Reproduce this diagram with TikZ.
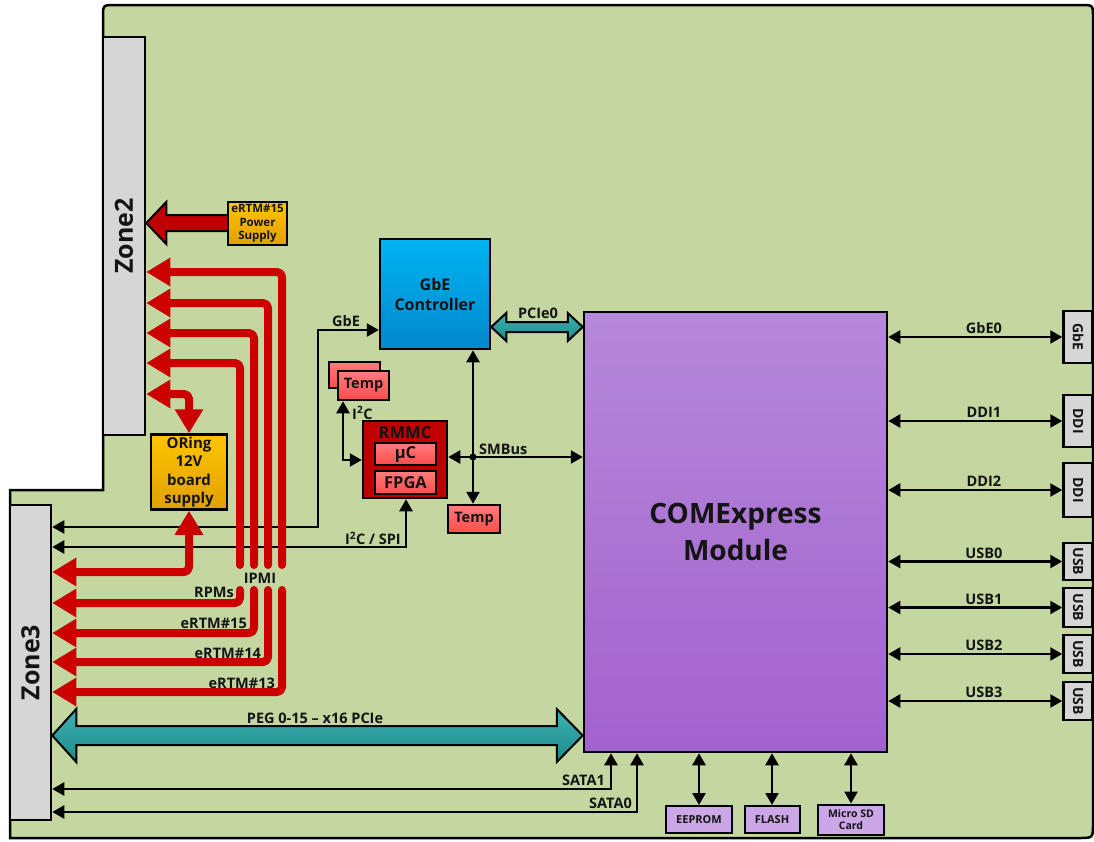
\documentclass[tikz,border=0pt]{standalone}
\usepackage{fontspec}
\setmainfont{Open Sans}
\usetikzlibrary{arrows.meta,calc}
\definecolor{boardgreen}{HTML}{C4D7A0}
\definecolor{zonegray}{HTML}{D6D6D6}
\definecolor{ipmired}{HTML}{CC0000}
\definecolor{darkred}{HTML}{C00000}
\definecolor{gbeTop}{HTML}{00B4F2}
\definecolor{gbeBot}{HTML}{0088CC}
\definecolor{tealTop}{HTML}{3DB2B2}
\definecolor{tealBot}{HTML}{1D8A8A}
\definecolor{orTop}{HTML}{FFC400}
\definecolor{orBot}{HTML}{E0A000}
\definecolor{tempTop}{HTML}{FF7C7C}
\definecolor{tempBot}{HTML}{FF4C4C}
\definecolor{comTop}{HTML}{B688DA}
\definecolor{comBot}{HTML}{A262CE}
\definecolor{lightpurple}{HTML}{CBA7E7}
\definecolor{txt}{HTML}{141414}
\begin{document}
\begin{tikzpicture}[x=1pt,y=-1pt,
  lbl/.style={font=\bfseries\fontsize{14.5}{16}\selectfont, inner sep=1pt, text=txt},
  box/.style={draw=black, line width=2.5pt, inner sep=0pt, align=center, text=txt},
  zone/.style={box, fill=zonegray, font=\bfseries\fontsize{25}{28}\selectfont},
  conn/.style={box, fill=zonegray, minimum width=29pt, font=\bfseries\fontsize{14}{15}\selectfont},
  orangebox/.style={box, top color=orTop, bottom color=orBot},
  tempbox/.style={box, top color=tempTop, bottom color=tempBot},
  membox/.style={box, fill=lightpurple, line width=2pt, font=\bfseries\fontsize{11}{12}\selectfont},
  blk/.style={draw=black, line width=2.5pt, >={Triangle[length=12pt,width=13pt]}},
  redarr/.style={draw=ipmired, line width=8pt, line cap=round, line join=round, rounded corners=5pt, >={Triangle[length=24pt,width=27pt]}},
  fatarrow/.style={draw=black, line width=2pt, line join=miter, top color=tealTop, bottom color=tealBot},
]
\useasboundingbox (0,0) rectangle (1094,841);
% board outline
\draw[line width=2.5pt, fill=boardgreen] (103,17) .. controls (103,5) .. (115,5) -- (1081,5) .. controls (1093,5) .. (1093,17) -- (1093,824) .. controls (1093,838) .. (1079,838) -- (10,838) -- (10,490) -- (103,490) -- cycle;

% zones
\node[zone, minimum width=42pt, minimum height=398pt] (z2) at (124,236) {\rotatebox{90}{Zone2}};
\node[zone, minimum width=41pt, minimum height=315pt] (z3) at (30.5,662.5) {\rotatebox{90}{Zone3}};

% boxes
\node[orangebox, minimum width=59pt, minimum height=43pt, font=\bfseries\fontsize{11.5}{13.5}\selectfont] (ps) at (257.5,223.5) {eRTM\#15\\Power\\Supply};
\node[orangebox, minimum width=76pt, minimum height=75pt, font=\bfseries\fontsize{15}{18.5}\selectfont] (oring) at (189,472) {ORing\\12V\\board\\supply};
\node[box, top color=gbeTop, bottom color=gbeBot, minimum width=110pt, minimum height=110pt, font=\bfseries\fontsize{16}{20}\selectfont] (gbe) at (435,294) {GbE\\Controller};
\node[tempbox, minimum width=51pt, minimum height=26pt] (tempb) at (354.5,375) {};
\node[tempbox, minimum width=51pt, minimum height=29pt, font=\bfseries\fontsize{14.5}{16}\selectfont] (temp1) at (363.5,385.5) {Temp};
\node[box, fill=darkred, minimum width=84pt, minimum height=77pt] (rmmc) at (405,459.5) {};
\node[font=\bfseries\fontsize{16.5}{18}\selectfont, text=txt, inner sep=0pt] (rmmct) at (405,433) {RMMC};
\node[tempbox, line width=2pt, minimum width=61pt, minimum height=22pt, font=\bfseries\fontsize{16.5}{18}\selectfont] (uc) at (405.5,454) {µC};
\node[tempbox, line width=2pt, minimum width=61pt, minimum height=23pt, font=\bfseries\fontsize{16.5}{18}\selectfont] (fpga) at (405.5,482.5) {FPGA};
\node[tempbox, minimum width=52pt, minimum height=28pt, font=\bfseries\fontsize{14.5}{16}\selectfont] (temp2) at (474,519) {Temp};
\node[box, top color=comTop, bottom color=comBot, minimum width=303pt, minimum height=440pt, font=\bfseries\fontsize{28}{37}\selectfont] (com) at (735.5,532) {COMExpress\\Module};

% right connectors
\node[conn, minimum height=52pt] (cgbe) at (1078,337) {\rotatebox{-90}{GbE}};
\node[conn, minimum height=52pt] (cddi1) at (1078,421) {\rotatebox{-90}{DDI}};
\node[conn, minimum height=54pt] (cddi2) at (1078,490) {\rotatebox{-90}{DDI}};
\node[conn, minimum height=37pt] (cusb0) at (1078,561.5) {\rotatebox{-90}{USB}};
\node[conn, minimum height=39pt] (cusb1) at (1078,607.5) {\rotatebox{-90}{USB}};
\node[conn, minimum height=38pt] (cusb2) at (1078,654) {\rotatebox{-90}{USB}};
\node[conn, minimum height=38pt] (cusb3) at (1078,701) {\rotatebox{-90}{USB}};

% bottom memory boxes
\node[membox, minimum width=66pt, minimum height=27pt] (eeprom) at (699,819.5) {EEPROM};
\node[membox, minimum width=55pt, minimum height=27pt] (flash) at (772,819.5) {FLASH};
\node[membox, minimum width=66pt, minimum height=30pt, font=\bfseries\fontsize{10.5}{12}\selectfont] (msd) at (851,819.5) {Micro SD\\Card};

% right side arrows
\foreach \c/\t in {cgbe/GbE0, cddi1/DDI1, cddi2/DDI2, cusb0/USB0, cusb1/USB1, cusb2/USB2, cusb3/USB3}{
  \draw[blk,<->] (com.east |- \c) -- (\c.west) node[lbl, pos=0.55, anchor=south, yshift=1pt] {\t};
}

% bottom arrows
\foreach \m in {eeprom, flash, msd}{
  \draw[blk,<->] (com.south -| \m) -- (\m.north);
}
\draw[blk,<->] (z3.east |- 0,789) -- (611,789) -- (com.south -| 611,0);
\node[lbl, anchor=south east] (lsata1) at (606,787) {SATA1};
\draw[blk,<->] (z3.east |- 0,812) -- (637,812) -- (com.south -| 637,0);
\node[lbl, anchor=south east] (lsata0) at (633,810) {SATA0};

% GbE and I2C/SPI lines
\draw[blk,<->] (z3.east |- 0,527) -- (318,527) -- (318,330) -- (gbe.west |- 0,330);
\node[lbl, anchor=south] (lgbe) at (346,328) {GbE};
\draw[blk,<->] (z3.east |- 0,547) -- (406,547) -- (rmmc.south -| 406,0);
\node[lbl, anchor=south east] (li2cspi) at (402,546) {I\textsuperscript{2}C / SPI};

% SMBus
\draw[blk,<->] (rmmc.east |- 0,457) -- (com.west |- 0,457);
\draw[blk,<->] (gbe.south -| 473,0) -- (temp2.north -| 473,0);
\node[circle, fill=black, inner sep=0pt, minimum size=7pt] (dot) at (473,457) {};
\node[lbl, anchor=south west] (lsmb) at (478,456) {SMBus};

% I2C to temp
\draw[blk,<->] (temp1.south -| 343,0) -- (343,460) -- (rmmc.west |- 0,460);
\node[lbl, anchor=west] (li2c) at (351,413) {I\textsuperscript{2}C};

% PCIe0 fat arrow
\draw[fatarrow] (gbe.east |- 0,327) -- ++(15,-14) -- ++(0,9) -- ($(com.west |- 0,322)+(-15,0)$) -- ++(0,-9) -- (com.west |- 0,327) -- ++(-15,14) -- ++(0,-9) -- ($(gbe.east |- 0,332)+(15,0)$) -- ++(0,9) -- cycle;
\node[lbl, anchor=south] (lpcie) at (538,320) {PCIe0};

% PEG fat arrow
\draw[fatarrow] (z3.east |- 0,735.5) -- ++(24,-26.5) -- ++(0,17) -- ($(com.west |- 0,726)+(-26,0)$) -- ++(0,-17) -- (com.west |- 0,735.5) -- ++(-26,26.5) -- ++(0,-17) -- ($(z3.east |- 0,745)+(24,0)$) -- ++(0,17) -- cycle;
\node[lbl, anchor=south] (lpeg) at (315,725) {PEG 0-15 – x16 PCIe};

% power arrow
\draw[draw=black, line width=2pt, fill=darkred, line join=miter] (ps.west |- 0,215) -- ($(z2.east |- 0,215)+(20,0)$) -- ++(0,-13) -- (z2.east |- 0,223) -- ++(20,21) -- ++(0,-13) -- (ps.west |- 0,231);

% IPMI red arrows (upper)
\coordinate (u1) at (282,565);
\coordinate (u2) at (268,565);
\coordinate (u3) at (254,565);
\coordinate (u4) at (240,565);
\draw[redarr,->] (u1) -- (282,272) -- (z2.east |- 0,272);
\draw[redarr,->] (u2) -- (268,303) -- (z2.east |- 0,303);
\draw[redarr,->] (u3) -- (254,333) -- (z2.east |- 0,333);
\draw[redarr,->] (u4) -- (240,363) -- (z2.east |- 0,363);
\draw[redarr,<->] (z2.east |- 0,394) -- (189,394) -- (oring.north);

% lower
\coordinate (d1) at (240,590);
\coordinate (d2) at (254,590);
\coordinate (d3) at (268,590);
\coordinate (d4) at (282,590);
\draw[redarr,<->] (z3.east |- 0,572) -- (189,572) -- (oring.south);
\draw[redarr,->] (d1) -- (240,603) -- (z3.east |- 0,603);
\draw[redarr,->] (d2) -- (254,633) -- (z3.east |- 0,633);
\draw[redarr,->] (d3) -- (268,662) -- (z3.east |- 0,662);
\draw[redarr,->] (d4) -- (282,692) -- (z3.east |- 0,692);
\node[lbl] (lipmi) at (260,578) {IPMI};
\node[lbl, anchor=east] (lrpm) at (235,592) {RPMs};
\node[lbl, anchor=east] (le15) at (248,623) {eRTM\#15};
\node[lbl, anchor=east] (le14) at (262,653) {eRTM\#14};
\node[lbl, anchor=east] (le13) at (276,683) {eRTM\#13};
\end{tikzpicture}
\end{document}
